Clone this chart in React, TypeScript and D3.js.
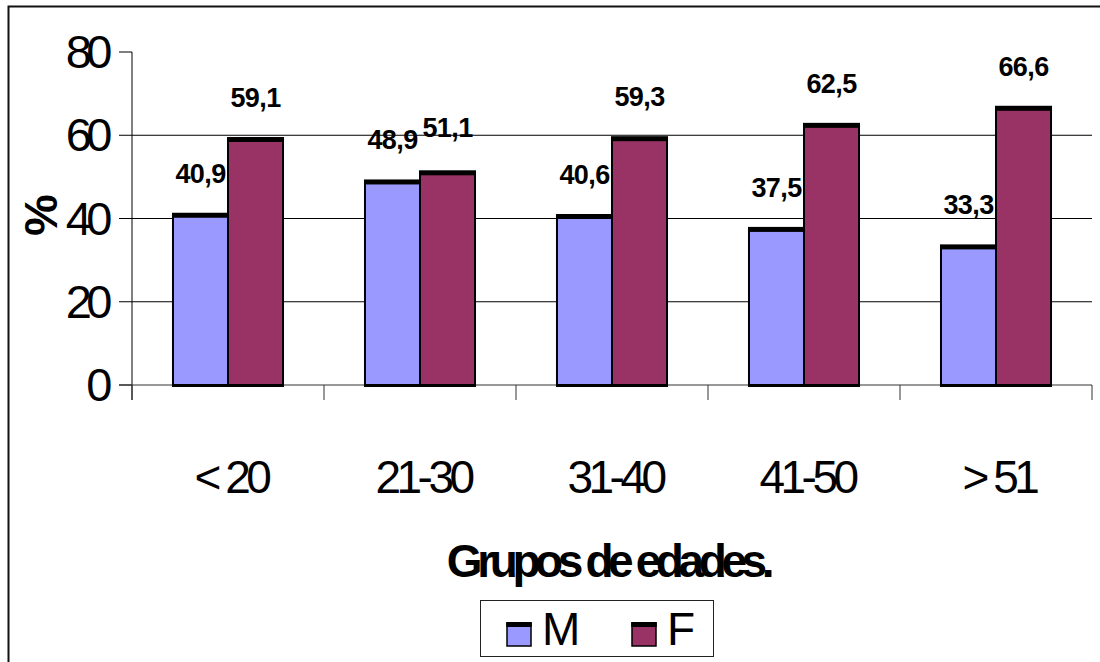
import React from "react";
import * as d3 from "d3";

const categories = ["< 20", "21-30", "31-40", "41-50", "> 51"];
const seriesNames = ["M", "F"];
const valuesM = [40.9, 48.9, 40.6, 37.5, 33.3];
const valuesF = [59.1, 51.1, 59.3, 62.5, 66.6];
const labelsM = ["40,9", "48,9", "40,6", "37,5", "33,3"];
const labelsF = ["59,1", "51,1", "59,3", "62,5", "66,6"];
const yTicks = [0, 20, 40, 60, 80];
const gridTicks = [20, 40, 60];
const colors = ["#9999FF", "#993366"];

const W = 1100;
const H = 662;
const FONT = "'Liberation Sans', Arial, sans-serif";

export default function App() {
  const x0 = d3.scaleBand<string>().domain(categories).range([132, 1092]).paddingInner(0).paddingOuter(0);
  const x1 = d3.scaleBand<string>().domain(seriesNames).range([0, x0.bandwidth()]).paddingInner(0).paddingOuter(0.745);
  const y = d3.scaleLinear().domain([0, 80]).range([385, 52]);
  const series = [valuesM, valuesF];
  const labels = [labelsM, labelsF];
  const bw = x1.bandwidth();
  const bounds = categories.map((_, i) => 132 + x0.step() * i).concat([1092]);

  return (
    <svg width={W} height={H} style={{ position: "absolute", left: 0, top: 0, background: "#fff" }} fontFamily={FONT}>
      <rect x={0} y={0} width={W} height={H} fill="#fff" />
      <rect x={8.5} y={6.5} width={1200} height={800} fill="none" stroke="#111" strokeWidth={2} />
      {/* gridlines */}
      {gridTicks.map((t) => (
        <line key={"g" + t} x1={132} x2={1092} y1={y(t)} y2={y(t)} stroke="#000" strokeWidth={1} />
      ))}
      {/* y axis */}
      <line x1={132} x2={132} y1={y(80)} y2={400} stroke="#000" strokeWidth={1} />
      {yTicks.map((t) => (
        <g key={"yt" + t}>
          <line x1={119} x2={132} y1={y(t)} y2={y(t)} stroke="#000" strokeWidth={1} />
          <text x={107} y={y(t) + 16} textAnchor="end" fontSize={47} letterSpacing={-5.5} fill="#000">
            {t}
          </text>
        </g>
      ))}
      {/* x axis */}
      <line x1={119} x2={1092} y1={y(0)} y2={y(0)} stroke="#333" strokeWidth={1} />
      {bounds.map((b, i) => (
        <line key={"xt" + i} x1={b} x2={b} y1={y(0)} y2={400} stroke="#333" strokeWidth={1} />
      ))}
      {/* bars */}
      {categories.map((c, i) => (
        <g key={c}>
          {seriesNames.map((s, j) => {
            const bx = (x0(c) as number) + (x1(s) as number);
            const top = y(series[j][i]);
            return (
              <g key={s}>
                <rect x={bx} y={top} width={bw} height={y(0) - top} fill={colors[j]} stroke="#000" strokeWidth={2} />
                <rect x={bx - 1} y={top - 2} width={bw + 2} height={5} fill="#000" />
                <rect x={bx - 1} y={y(0) - 1} width={bw + 2} height={3} fill="#000" />
              </g>
            );
          })}
        </g>
      ))}
      {/* data labels */}
      {categories.map((c, i) => (
        <g key={"dl" + c}>
          {seriesNames.map((s, j) => {
            const cx = (x0(c) as number) + (x1(s) as number) + bw / 2;
            const top = y(series[j][i]);
            const dy = i === 1 && j === 1 ? 35 : 32;
            return (
              <text key={s} x={cx} y={top - dy} textAnchor="middle" fontSize={27} fontWeight="bold" letterSpacing={-0.6} fill="#000">
                {labels[j][i]}
              </text>
            );
          })}
        </g>
      ))}
      {/* x labels */}
      {categories.map((c) => (
        <text key={"xl" + c} x={(x0(c) as number) + x0.bandwidth() / 2 + 3} y={493} textAnchor="middle" fontSize={46} letterSpacing={-4.5} fill="#000" style={{ whiteSpace: "pre" }}>
          {c}
        </text>
      ))}
      {/* y title */}
      <text transform="translate(57,215) rotate(-90)" textAnchor="middle" fontSize={47} fontWeight="bold" fill="#000">
        %
      </text>
      {/* x title */}
      <text x={608} y={577} textAnchor="middle" fontSize={46} fontWeight="bold" letterSpacing={-5.4} fill="#000">
        Grupos de edades.
      </text>
      {/* legend */}
      <rect x={480.5} y={600.5} width={233} height={56} fill="#fff" stroke="#222" strokeWidth={1} />
      {seriesNames.map((s, j) => {
        const sx = j === 0 ? 507 : 632;
        return (
          <g key={"lg" + s}>
            <rect x={sx} y={623} width={24} height={23} fill={colors[j]} stroke="#000" strokeWidth={1.5} />
            <rect x={sx - 0.75} y={622} width={25.5} height={5} fill="#000" />
            <text x={sx + 35} y={645} fontSize={46} letterSpacing={-4} fill="#000">
              {s}
            </text>
          </g>
        );
      })}
    </svg>
  );
}
